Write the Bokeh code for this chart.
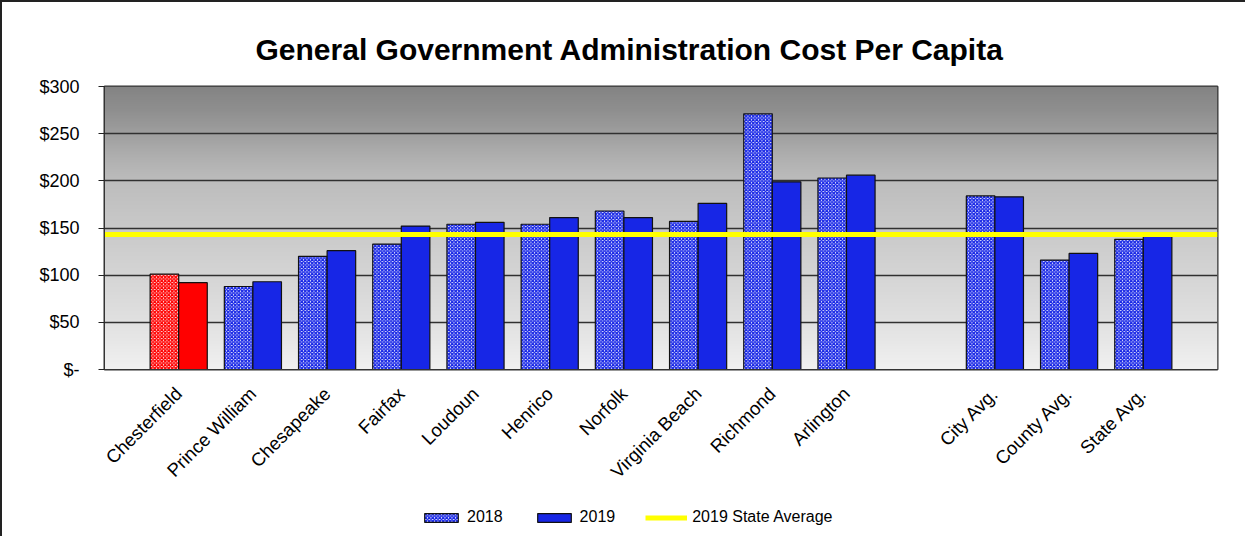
import numpy as np
from math import pi
from bokeh.plotting import figure
from bokeh.layouts import column
from bokeh.models import (ColumnDataSource, Range1d, FixedTicker,
                          Legend, LegendItem)
from bokeh.embed import file_html
from bokeh.resources import INLINE

# ---------------- data ----------------
categories = ["Chesterfield", "Prince William", "Chesapeake", "Fairfax", "Loudoun",
              "Henrico", "Norfolk", "Virginia Beach", "Richmond", "Arlington",
              "City Avg.", "County Avg.", "State Avg."]
values_2018 = [101, 88, 120, 133, 154, 154, 168, 157, 271, 203, 184, 116, 138]
values_2019 = [92, 93, 126, 152, 156, 161, 161, 176, 199, 206, 183, 123, 143]
n_localities = 10            # localities come first, then the averages
highlight = "Chesterfield"
state_avg_2019 = values_2019[-1]
y_ticks = [0, 50, 100, 150, 200, 250, 300]
y_tick_labels = ["$-", "$50", "$100", "$150", "$200", "$250", "$300"]
title_text = "General Government Administration Cost Per Capita"
legend_labels = ["2018", "2019", "2019 State Average"]

# ---------------- styling ----------------
BLUE = "#1726e6"
RED = "#ff0000"
YELLOW = "#ffff00"
FONT = "Liberation Sans"
BORDER = {"border-left": "2px solid #222", "border-top": "2px solid #222"}

# slot positions: one empty slot between the localities and the averages
pos = [i + 1 if i < n_localities else i + 2 for i in range(len(categories))]
colors = [RED if c == highlight else BLUE for c in categories]
bw = 0.385
source = ColumnDataSource(dict(x18=[x - bw / 2 for x in pos],
                               x19=[x + bw / 2 for x in pos],
                               v18=values_2018, v19=values_2019, color=colors))

x0, x1 = 0, pos[-1] + 1
p = figure(width=1245, height=500, output_backend="svg", toolbar_location=None,
           x_range=Range1d(x0, x1), y_range=Range1d(0, 300),
           min_border_left=102, min_border_right=30, min_border_top=84,
           min_border_bottom=133)
p.styles = BORDER

# gradient background of the plot area
stops_y = [0, 50, 100, 150, 200, 225, 250, 275, 300]
stops_g = [0xf1, 0xe1, 0xd5, 0xc9, 0xbd, 0xb0, 0x9f, 0x8f, 0x84]
H = 300
ys = (np.arange(H) + 0.5) * 300.0 / H
g = np.interp(ys, stops_y, stops_g).astype(np.uint32)
img = (np.uint32(0xFF) << np.uint32(24)) | (g << np.uint32(16)) | (g << np.uint32(8)) | g
img = img.reshape(H, 1).astype(np.uint32)
p.image_rgba(image=[img], x=x0, y=0, dw=x1 - x0, dh=300, level="image")

hatch18 = dict(fill_color="white", hatch_pattern="diagonal_cross",
               hatch_scale=3.5, hatch_weight=1.5, line_color="#111", line_width=1.2)
r18 = p.vbar(x="x18", top="v18", width=bw, source=source, hatch_color="color",
             **hatch18)
r19 = p.vbar(x="x19", top="v19", width=bw, source=source,
             fill_color="color", line_color="#111", line_width=1.2)
p.line(x=[x0, x1], y=[state_avg_2019, state_avg_2019],
       line_color=YELLOW, line_width=5)

# title / axes / grid
p.title.text = title_text
p.title.align = "left"
p.title.offset = 151
p.title.text_font = FONT
p.title.text_font_size = "30px"
p.title.text_font_style = "bold"
p.title.text_color = "black"
p.title.standoff = 42

p.xgrid.grid_line_color = None
p.ygrid.grid_line_color = "#303030"
p.ygrid.grid_line_width = 1.3
p.yaxis.ticker = FixedTicker(ticks=y_ticks)
p.yaxis.major_label_overrides = {t: l for t, l in zip(y_ticks, y_tick_labels)}
p.yaxis.major_label_text_font = FONT
p.yaxis.major_label_text_font_size = "18px"
p.yaxis.major_label_text_color = "black"
p.yaxis.major_tick_out = 6
p.yaxis.major_tick_in = 0
p.yaxis.minor_tick_line_color = None
p.yaxis.major_tick_line_color = "#222"
p.yaxis.axis_line_color = "#333"
p.yaxis.major_label_standoff = 19

p.xaxis.ticker = FixedTicker(ticks=pos)
p.xaxis.major_label_overrides = {x: c for x, c in zip(pos, categories)}
p.xaxis.major_label_orientation = pi / 4
p.xaxis.major_label_text_font = FONT
p.xaxis.major_label_text_font_size = "18.5px"
p.xaxis.major_label_text_color = "black"
p.xaxis.major_tick_line_color = None
p.xaxis.minor_tick_line_color = None
p.xaxis.axis_line_color = "#333"
p.xaxis.major_label_standoff = 15

p.outline_line_color = "#333"
p.outline_line_width = 2
p.background_fill_color = "white"
p.border_fill_color = "white"

# ---------------- legend strip below the chart ----------------
p2 = figure(width=1245, height=36, output_backend="svg", toolbar_location=None,
            x_range=Range1d(0, 1), y_range=Range1d(0, 1),
            x_axis_type=None, y_axis_type=None, min_border=0)
p2.styles = {"border-left": "2px solid #222"}
p2.grid.grid_line_color = None
p2.outline_line_color = None
p2.background_fill_color = "white"
p2.border_fill_color = "white"
# legend-only key glyphs: one point each, placed outside the strip's visible range
off = -10
lg18 = p2.vbar(x=[off], top=[off], width=0.1, hatch_color=BLUE, **hatch18)
lg19 = p2.vbar(x=[off], top=[off], width=0.1, fill_color=BLUE, line_color="#111",
               line_width=1.2)
lgl = p2.line(x=[off, off], y=[off, off], line_color=YELLOW, line_width=5)

legend = Legend(items=[LegendItem(label=legend_labels[0], renderers=[lg18], index=0),
                       LegendItem(label=legend_labels[1], renderers=[lg19], index=0),
                       LegendItem(label=legend_labels[2], renderers=[lgl])],
                orientation="horizontal", location=(316, 10),
                glyph_width=42, glyph_height=11, label_standoff=5, spacing=30,
                label_text_font=FONT, label_text_font_size="16px",
                label_text_color="black",
                border_line_color=None, background_fill_alpha=0,
                padding=0, margin=0)
p2.add_layout(legend)

layout = column(p, p2, spacing=0)
open("out.html", "w").write(file_html(layout, INLINE))
